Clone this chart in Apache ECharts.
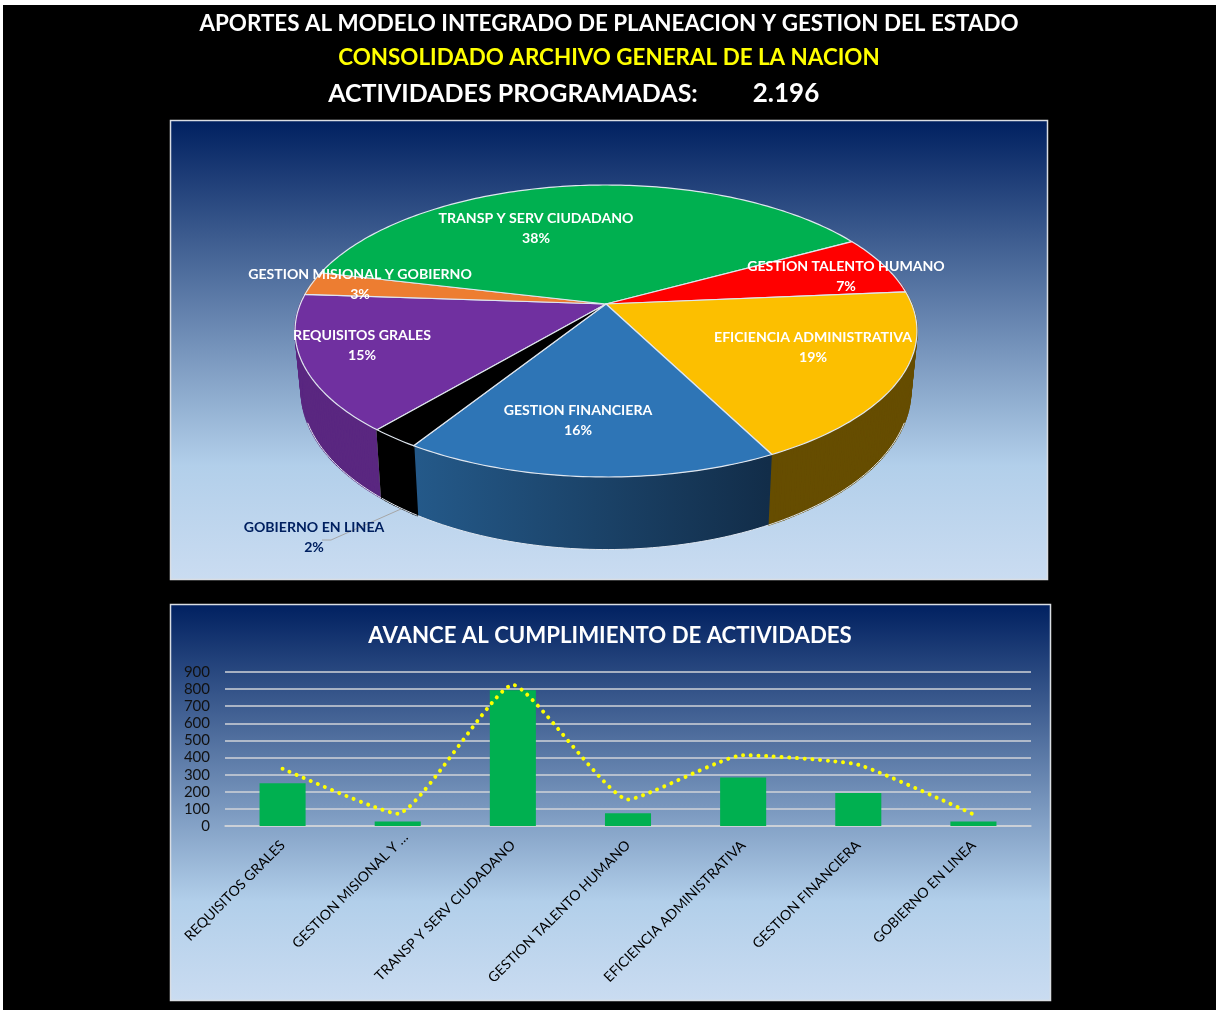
<!DOCTYPE html>
<html><head><meta charset="utf-8">
<style>html,body{margin:0;padding:0;background:#000}#c{width:1216px;height:1010px}</style>
<script src="https://cdn.jsdelivr.net/npm/echarts@6/dist/echarts.min.js"></script>
</head><body><div id="c"></div>
<script>
// ---- data ----
const categories = ['REQUISITOS GRALES','GESTION MISIONAL Y GOBIERNO','TRANSP Y SERV CIUDADANO','GESTION TALENTO HUMANO','EFICIENCIA ADMINISTRATIVA','GESTION FINANCIERA','GOBIERNO EN LINEA'];
const sharePercent = [15.0, 2.6, 38.3, 6.6, 18.9, 16.4, 2.2];
const programmed = [335, 72, 825, 155, 414, 358, 68];
const achieved = [250, 27, 793, 75, 283, 193, 27];
const yTicks = [0,100,200,300,400,500,600,700,800,900];
// ---- styles / layout ----
const topColors = ['#7030a0','#ed7d31','#00b050','#ff0000','#fcbf00','#2e75b6','#000000'];
const sideColors = ['#5a2780','#a85a22','#007a38','#b00000','#664d00',null,'#000000'];
const labelAt = [[362,335],[360,274],[536,218],[846,266],[813,337],[578,410],[314,527]];
const labelColor = ['#fff','#fff','#fff','#fff','#fff','#fff','#002060'];
const pieStartDeg = 220;
const P = {cx:606, cy:304, f:305.6, g:141, k:0.1849, bx:0.98, by:1.09, by0:361};
const FONT = 'Lato';

function proj(deg){
  const a = deg*Math.PI/180, u = Math.sin(a), v = -Math.cos(a), d = 1-P.k*v;
  return [P.f*u/d, P.g*v/d];
}
const topPt = deg => { const p = proj(deg); return [P.cx+p[0], P.cy+p[1]]; };
const botPt = deg => { const p = proj(deg); return [P.cx+P.bx*p[0], P.by0+P.by*p[1]]; };
function arcPts(fn,a,b){
  const out=[], n=Math.max(2,Math.ceil(Math.abs(b-a)));
  for(let i=0;i<=n;i++) out.push(fn(a+(b-a)*i/n));
  return out;
}
const total = sharePercent.reduce((s,v)=>s+v,0);
function sliceRange(i){
  let s = pieStartDeg;
  for(let j=0;j<i;j++) s += sharePercent[j]/total*360;
  return [s, s+sharePercent[i]/total*360];
}
// visible window of the cylinder wall (clockwise degrees from the top)
const wallA = 80, wallB = 280;
function wallFor(i){
  const [a,b] = sliceRange(i);
  for (const shift of [0,-360]) {
    const lo = Math.max(a+shift,wallA), hi = Math.min(b+shift,wallB);
    if (hi>lo) return [lo,hi];
  }
  return null;
}
const stroke = '#dfe6ef';
function renderSide(params, api){
  const i = api.value(0), w = wallFor(i);
  if(!w) return {type:'group',children:[]};
  const children = [];
  if(!sideColors[i]){
    const pts = arcPts(topPt,w[0],w[1]).concat(arcPts(botPt,w[1],w[0]));
    const l = botPt(w[1]), r = botPt(w[0]);
    const fill = new echarts.graphic.LinearGradient(Math.min(l[0],r[0]),0,Math.max(l[0],r[0]),0,[{offset:0,color:'#245989'},{offset:1,color:'#122d49'}],true);
    children.push({type:'polygon',shape:{points:pts},style:{fill:fill,stroke:null}});
  } else {
    const n = Math.ceil(w[1]-w[0]);
    for(let q=0;q<n;q++){
      const a0 = w[0]+(w[1]-w[0])*q/n, a1 = w[0]+(w[1]-w[0])*(q+1)/n;
      children.push({type:'polygon',shape:{points:[topPt(a0),topPt(a1),botPt(a1),botPt(a0)]},
        style:{fill:sideColors[i],stroke:sideColors[i],lineWidth:1.6,lineJoin:'round'}});
    }
  }
  const [a,b] = sliceRange(i);
  const oa = Math.max(w[0],112), ob = Math.min(w[1],248);
  if(ob>oa) children.push({type:'polyline',shape:{points:arcPts(botPt,oa,ob)},style:{fill:null,stroke:stroke,lineWidth:1}});
  for(const e of [a,b]){
    if(e>wallA && e<wallB){
      children.push({type:'polyline',shape:{points:[topPt(e),botPt(e)]},style:{fill:null,stroke:stroke,lineWidth:1.5}});
    }
  }
  return {type:'group',children:children};
}
function renderTop(params, api){
  const i = api.value(0), [a,b] = sliceRange(i);
  const pts = [[P.cx,P.cy]].concat(arcPts(topPt,a,b));
  return {type:'polygon',shape:{points:pts},style:{fill:topColors[i],stroke:stroke,lineWidth:1.2,lineJoin:'round'}};
}
function renderLabel(params, api){
  const i = api.value(0), c = labelAt[i], col = labelColor[i];
  const font = (y)=>({x:c[0],y:y,text:'',fill:col,align:'center',verticalAlign:'middle',fontFamily:FONT,fontWeight:'bold',fontSize:14.1});
  const kids = [
    {type:'text',style:Object.assign(font(c[1]),{text:categories[i]})},
    {type:'text',style:Object.assign(font(c[1]+20.5),{text:Math.round(sharePercent[i])+'%'})}
  ];
  if(i===6){
    kids.unshift({type:'polyline',shape:{points:[[401,509],[331,540],[322,540]]},style:{fill:null,stroke:'#a6a6a6',lineWidth:1}});
  }
  return {type:'group',children:kids};
}
const idx = categories.map((_,i)=>[i]);
const panelFill = () => new echarts.graphic.LinearGradient(0,0,0,1,[
  {offset:0,color:'#002060'},{offset:0.75,color:'#b2cfea'},{offset:1,color:'#cadcf1'}]);
const ttl = (text,x,y,color,size)=>({text:text,left:x,top:y,padding:0,textAlign:'center',textVerticalAlign:'middle',
  textStyle:{color:color,fontFamily:FONT,fontWeight:'bold',fontSize:size}});

const chart = echarts.init(document.getElementById('c'),null,{renderer:'canvas'});
chart.setOption({
  animation:false,
  backgroundColor:'#000000',
  title:[
    ttl('APORTES AL MODELO INTEGRADO DE PLANEACION Y GESTION DEL ESTADO',609,24,'#fff',22.4),
    ttl('CONSOLIDADO ARCHIVO GENERAL DE LA NACION',609,58,'#ffff00',22.4),
    ttl('ACTIVIDADES PROGRAMADAS:',513,94,'#fff',25),
    ttl('2.196',786,94,'#fff',26),
    ttl('AVANCE AL CUMPLIMIENTO DE ACTIVIDADES',610,636,'#fff',22.2)
  ],
  graphic:[
    {type:'rect',z:-1,shape:{x:0,y:0,width:1216,height:5},style:{fill:'#fff'}},
    {type:'rect',z:-1,shape:{x:0,y:0,width:3,height:1010},style:{fill:'#fff'}},
    {type:'rect',z:-1,shape:{x:170.5,y:120.5,width:877,height:459},style:{fill:panelFill(),stroke:'#d9dde3',lineWidth:1.5}},
    {type:'rect',z:-1,shape:{x:170.5,y:604.5,width:880,height:396},style:{fill:panelFill(),stroke:'#d9dde3',lineWidth:1.5}}
  ],
  grid:{left:225,top:672,width:806,height:154,containLabel:false},
  xAxis:{type:'category',
    data:categories.map(c=>c.length>26?{value:c,textStyle:{align:'center',padding:[0,134,0,0]}}:c),
    axisTick:{show:false},
    axisLine:{lineStyle:{color:'#d0d3d8',width:1.5}},
    axisLabel:{interval:0,rotate:45,margin:17,color:'#000',fontFamily:FONT,fontSize:14,
      formatter:v=>v.length>26?'GESTION MISIONAL Y …':v}},
  yAxis:{type:'value',min:0,max:900,interval:100,
    axisLine:{show:false},axisTick:{show:false},
    splitLine:{lineStyle:{color:'#d0d3d8',width:1.5}},
    axisLabel:{margin:15,color:'#111',fontFamily:FONT,fontSize:15,formatter:v=>yTicks.includes(v)?String(v):''}},
  series:[
    {type:'bar',data:achieved,barWidth:'40%',itemStyle:{color:'#00b050'},z:2},
    {type:'line',data:programmed,smooth:0.15,symbol:'none',z:3,
      lineStyle:{color:'#ffff00',width:4,type:[0.01,7.7],cap:'round'}},
    {type:'custom',coordinateSystem:'none',data:idx,renderItem:renderSide,encode:{value:0},silent:true,z:4},
    {type:'custom',coordinateSystem:'none',data:idx,renderItem:renderTop,encode:{value:0},silent:true,z:5},
    {type:'custom',coordinateSystem:'none',data:idx,renderItem:renderLabel,encode:{value:0},silent:true,z:6}
  ]
});
</script></body></html>
